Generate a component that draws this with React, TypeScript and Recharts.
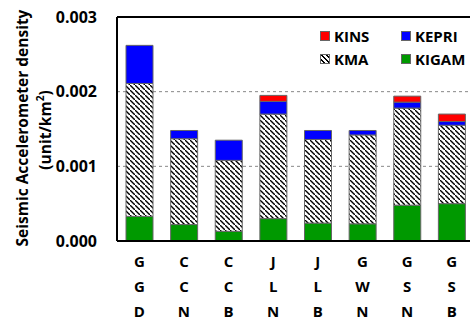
import { BarChart, Bar, XAxis, YAxis, CartesianGrid, ReferenceLine } from 'recharts';

const FONT = '"Open Sans", "DejaVu Sans", sans-serif';

// station groups, one letter per label row
const categories = ['GGD', 'CCN', 'CCB', 'JLN', 'JLB', 'GWN', 'GSN', 'GSB'];

// density in unit/km², stacked bottom to top
const kigam = [0.00033, 0.00022, 0.00013, 0.0003, 0.00024, 0.00023, 0.00048, 0.0005];
const kma = [0.00178, 0.00115, 0.00095, 0.0014, 0.00112, 0.00119, 0.0013, 0.00105];
const kepri = [0.00051, 0.00011, 0.00027, 0.00017, 0.00012, 0.00006, 0.00008, 0.00005];
const kins = [0, 0, 0, 0.00008, 0, 0, 0.00008, 0.0001];

const yTicks = [0, 0.001, 0.002, 0.003];

const data = categories.map((name, i) => ({
  name,
  KIGAM: kigam[i],
  KMA: kma[i],
  KEPRI: kepri[i],
  KINS: kins[i],
}));

const GREEN = '#009900';
const BLUE = '#0000ff';
const RED = '#ff0000';
const EDGE = '#666';

const XTick = ({ x, y, payload }: any) => {
  const letters = String(payload.value).split('');
  return (
    <g>
      {letters.map((c, i) => (
        <text
          key={i}
          x={x}
          y={y + 18 + i * 25}
          textAnchor="middle"
          dominantBaseline="central"
          fontFamily={FONT}
          fontWeight="bold"
          fontSize={15}
          fill="#000"
        >
          {c}
        </text>
      ))}
    </g>
  );
};

const YTitle = () => (
  <g fontFamily={FONT} fontWeight="bold" fontSize={15.5} fill="#000">
    <text x={22} y={128} textAnchor="middle" dominantBaseline="central" transform="rotate(-90 22 128)">
      Seismic Accelerometer density
    </text>
    <text x={45} y={130} textAnchor="middle" dominantBaseline="central" transform="rotate(-90 45 130)">
      (unit/km
      <tspan dy={-5} fontSize={10}>
        2
      </tspan>
      <tspan dy={5}>)</tspan>
    </text>
  </g>
);

const legendItems = [
  { name: 'KINS', fill: RED, left: 320, top: 31 },
  { name: 'KEPRI', fill: BLUE, left: 401, top: 31 },
  { name: 'KMA', fill: 'repeating-linear-gradient(45deg, #fff 0 2px, #000 2px 3.3px)', left: 320, top: 54 },
  { name: 'KIGAM', fill: GREEN, left: 401, top: 54 },
];

export default function App() {
  return (
    <div style={{ position: 'absolute', left: 0, top: 0, width: 470, height: 322, overflow: 'hidden', background: '#fff' }}>
      <BarChart width={480} height={322} data={data} margin={{ top: 17, right: 6, bottom: 0, left: 0 }} barSize={27}>
        <defs>
          <pattern id="hatch" patternUnits="userSpaceOnUse" width={5} height={5}>
            <rect width={5} height={5} fill="#fff" />
            <path d="M-1,-1 l2,2 M0,0 l5,5 M4,4 l2,2" stroke="#000" strokeWidth={1.4} />
          </pattern>
        </defs>
        <CartesianGrid vertical={false} stroke="#888" strokeDasharray="3 3" />
        <XAxis
          dataKey="name"
          height={81}
          tick={<XTick />}
          tickLine={false}
          tickSize={0}
          interval={0}
          axisLine={{ stroke: '#000', strokeWidth: 2 }}
        />
        <YAxis
          width={117}
          domain={[0, 0.003]}
          ticks={yTicks}
          tickFormatter={(v: number) => v.toFixed(3)}
          tickLine={false}
          tickSize={0}
          tickMargin={20}
          axisLine={{ stroke: '#000', strokeWidth: 2 }}
          tick={{ fontFamily: FONT, fontWeight: 'bold', fontSize: 16, fill: '#000' }}
        />
        <ReferenceLine y={0.003} stroke="#000" strokeWidth={2} />
        <Bar dataKey="KIGAM" stackId="a" fill={GREEN} stroke={EDGE} isAnimationActive={false} />
        <Bar dataKey="KMA" stackId="a" fill="url(#hatch)" stroke={EDGE} isAnimationActive={false} />
        <Bar dataKey="KEPRI" stackId="a" fill={BLUE} stroke={EDGE} isAnimationActive={false} />
        <Bar dataKey="KINS" stackId="a" fill={RED} stroke={EDGE} isAnimationActive={false} />
        <YTitle />
      </BarChart>
      {legendItems.map((it) => (
        <div
          key={it.name}
          style={{
            position: 'absolute',
            left: it.left,
            top: it.top,
            display: 'flex',
            alignItems: 'center',
            fontFamily: FONT,
            fontWeight: 'bold',
            fontSize: 15,
            lineHeight: '9px',
          }}
        >
          <span style={{ width: 8, height: 8, background: it.fill, border: `1px solid ${EDGE}`, marginRight: 4 }} />
          {it.name}
        </div>
      ))}
    </div>
  );
}
